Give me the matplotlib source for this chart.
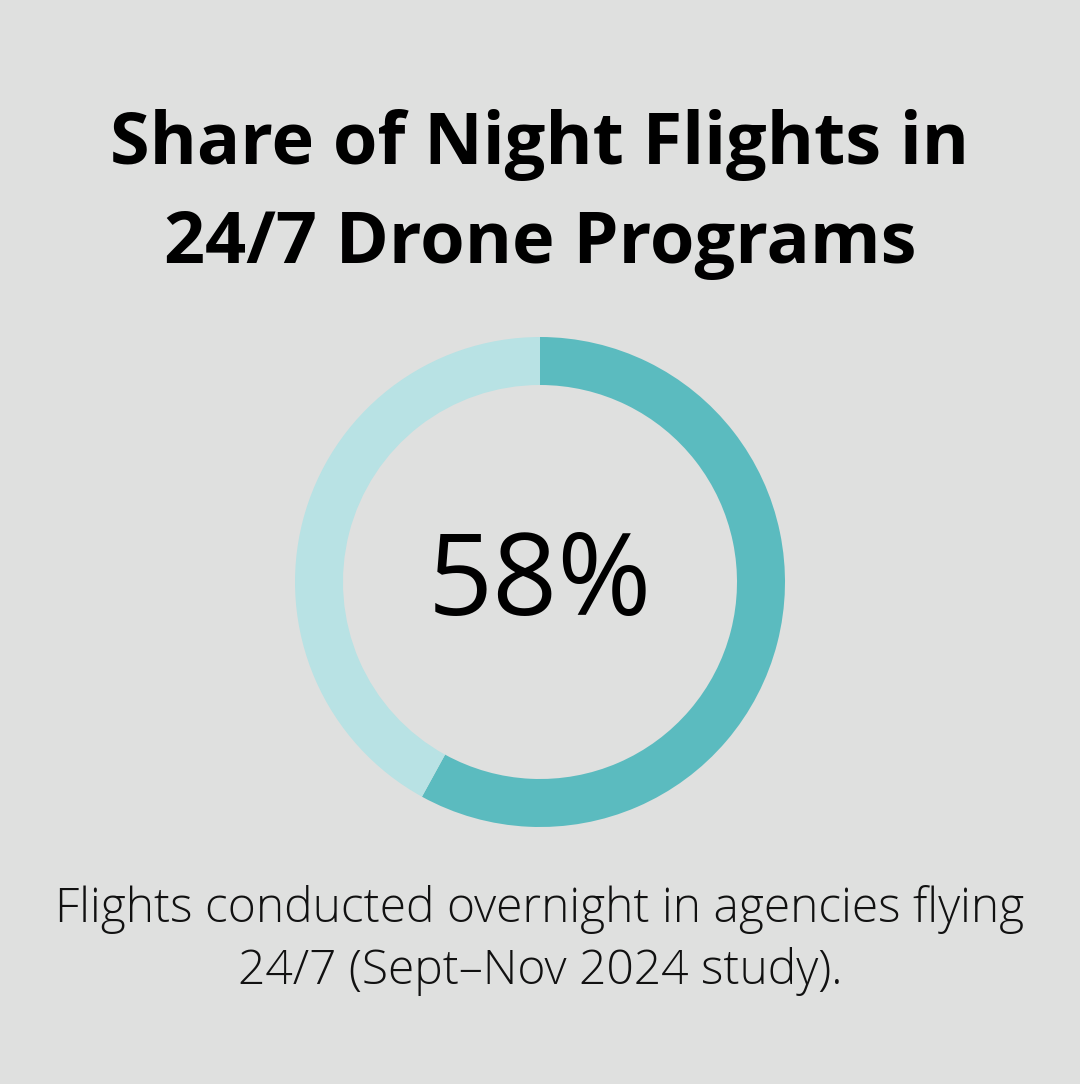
import matplotlib
matplotlib.use("Agg")
import matplotlib.pyplot as plt

title_lines = ["Share of Night Flights in", "24/7 Drone Programs"]
share_labels = ["Night", "Other"]
share_values = [58, 42]
center_label = "58%"
caption_lines = ["Flights conducted overnight in agencies flying", "24/7 (Sept\u2013Nov 2024 study)."]

BG = "#DFE0DF"
DARK = "#5BBBBF"
LIGHT = "#B8E2E4"

W, H = 1080, 1084
fig = plt.figure(figsize=(W / 100, H / 100), dpi=100, facecolor=BG)
ax = fig.add_axes([0, 0, 1, 1])
ax.set_facecolor(BG)
ax.set_xlim(0, W)
ax.set_ylim(0, H)
ax.set_aspect("equal")
ax.axis("off")

ax.pie(share_values, colors=[DARK, LIGHT], startangle=90, counterclock=False,
       center=(540, H - 582), radius=245, frame=True,
       wedgeprops=dict(width=48, edgecolor="none", linewidth=0))
ax.set_xlim(0, W)
ax.set_ylim(0, H)
ax.axis("off")

ax.text(540, H - 145, title_lines[0], ha="center", va="center", fontsize=51.8,
        fontweight="bold", family="Open Sans", color="#000000")
ax.text(540, H - 244, title_lines[1], ha="center", va="center", fontsize=51.8,
        fontweight="bold", family="Open Sans", color="#000000")

ax.text(540, H - 585, center_label, ha="center", va="center", fontsize=82,
        family="Open Sans", color="#000000")

ax.text(540, H - 909, caption_lines[0], ha="center", va="center", fontsize=34.6,
        fontweight="light", family="Open Sans", color="#111111")
ax.text(540, H - 972, caption_lines[1], ha="center", va="center", fontsize=34.6,
        fontweight="light", family="Open Sans", color="#111111")

fig.savefig("out.png", dpi=100, facecolor=BG)
